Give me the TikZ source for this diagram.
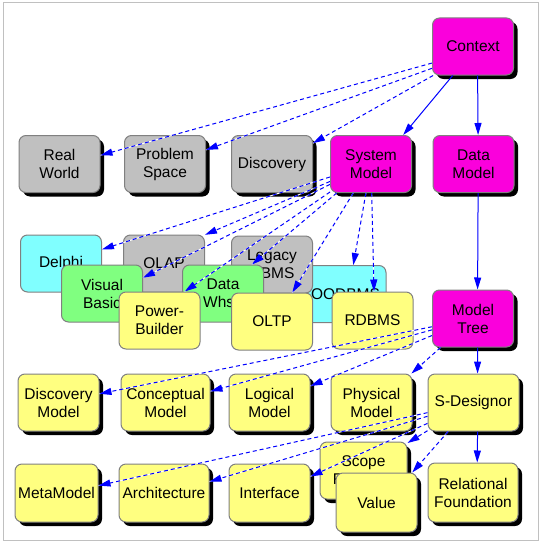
\documentclass[tikz,border=0pt]{standalone}
\usepackage{fontspec}
\setmainfont{Liberation Sans}
\usetikzlibrary{arrows.meta,shadows}
\definecolor{magbox}{RGB}{250,0,220}
\definecolor{cyanbox}{RGB}{128,255,255}
\definecolor{greenbox}{RGB}{128,255,128}
\definecolor{yelbox}{RGB}{255,255,128}
\definecolor{graybox}{RGB}{192,192,192}
\definecolor{edgegray}{RGB}{128,128,128}
\definecolor{framegray}{RGB}{192,192,192}
\begin{document}
\begin{tikzpicture}[x=1pt,y=-1pt,
  box/.style={draw=edgegray, line width=1pt, rounded corners=7pt, minimum width=81pt, minimum height=57pt, inner sep=0pt, align=center, font=\fontsize{15.5}{18}\selectfont},
  sbox/.style={box, drop shadow={shadow xshift=4pt, shadow yshift=-4pt, opacity=1, fill=black}},
  e/.style={draw=blue, line width=1pt, -{Triangle[length=12pt,width=7pt]}},
  de/.style={e, dash pattern=on 4pt off 3pt, preaction={draw=white, line width=1pt, solid, -}}]
\path[use as bounding box] (0,0) rectangle (542,543);
\draw[framegray, line width=1pt] (3,3) rectangle (538,540);
% row 1
\node[sbox, fill=magbox] (Context) at (473,46.5) {Context};
\node[sbox, fill=graybox] (RealWorld) at (59.5,164) {Real\\World};
\node[sbox, fill=graybox] (ProblemSpace) at (165,164) {Problem\\Space};
\node[sbox, fill=graybox] (Discovery) at (272,164) {Discovery};
\node[sbox, fill=magbox] (SystemModel) at (371,164) {System\\Model};
\node[sbox, fill=magbox] (DataModel) at (473.5,164) {Data\\Model};
% row 2
\node[box, fill=cyanbox] (Delphi) at (61,263.5) {Delphi};
\node[box, fill=graybox] (OLAP) at (164,263.5) {OLAP};
\node[box, fill=cyanbox] (OODBMS) at (345.5,294) {OODBMS};
\node[box, fill=graybox] (Legacy) at (272,264.5) {Legacy\\DBMS};
\node[box, fill=greenbox] (VisualBasic) at (102,293.5) {Visual\\Basic};
\node[box, fill=greenbox] (DataWhse) at (223,293.5) {Data\\Whse};
\node[box, fill=yelbox] (PowerBuilder) at (159.5,320.5) {Power-\\Builder};
\node[box, fill=yelbox] (OLTP) at (272,321.5) {OLTP};
\node[box, fill=yelbox] (RDBMS) at (372.5,320.5) {RDBMS};
\node[sbox, fill=magbox] (ModelTree) at (473,318.5) {Model\\Tree};
% row 3
\node[sbox, fill=yelbox] (DiscoveryModel) at (58.5,402.5) {Discovery\\Model};
\node[sbox, fill=yelbox, minimum width=89pt] (ConceptualModel) at (165.5,402.5) {Conceptual\\Model};
\node[sbox, fill=yelbox] (LogicalModel) at (269.5,402.5) {Logical\\Model};
\node[sbox, fill=yelbox] (PhysicalModel) at (371.5,402.5) {Physical\\Model};
\node[sbox, fill=yelbox, minimum width=91pt] (SDesignor) at (473.5,402.5) {S-Designor};
% row 4
\node[sbox, fill=yelbox, minimum width=83pt, minimum height=58pt] (MetaModel) at (56.5,493) {MetaModel};
\node[sbox, fill=yelbox, minimum width=90pt, minimum height=58pt] (Architecture) at (164,493) {Architecture};
\node[sbox, fill=yelbox, minimum height=58pt] (Interface) at (269.5,493) {Interface};
\node[sbox, fill=yelbox, minimum width=87pt] (Scope) at (363.5,470.5) {Scope\\Features};
\node[sbox, fill=yelbox, minimum height=59pt] (Value) at (376.5,502.5) {Value};
\node[sbox, fill=yelbox, minimum width=90pt, minimum height=59pt] (RelFound) at (473,492.5) {Relational\\Foundation};
% edges
\draw[de] (Context.202) -- (RealWorld.12);
\draw[de] (Context.208) -- (ProblemSpace.19);
\draw[de] (Context.216) -- (Discovery.27);
\draw[e] (Context.235) -- (SystemModel.42);
\draw[e] (Context.279) -- (DataModel.81);
\draw[e] (DataModel.279) -- (ModelTree.81);
\draw[de] (SystemModel) -- (Delphi.19);
\draw[de] (SystemModel) -- (VisualBasic.21);
\draw[de] (SystemModel) -- (OLAP.35);
\draw[de] (SystemModel) -- (PowerBuilder.49);
\draw[de] (SystemModel) -- (DataWhse.45);
\draw[de] (SystemModel) -- (OLTP.55);
\draw[de] (SystemModel) -- (OODBMS.75);
\draw[de] (SystemModel) -- (RDBMS.87);
\draw[e] (ModelTree.279) -- (SDesignor.82);
\draw[de] (ModelTree) -- (DiscoveryModel.12);
\draw[de] (ModelTree) -- (ConceptualModel.14);
\draw[de] (ModelTree) -- (LogicalModel.22);
\draw[de] (ModelTree) -- (PhysicalModel.36);
\draw[e] (SDesignor.278) -- (RelFound.82);
\draw[de] (SDesignor) -- (MetaModel.10);
\draw[de] (SDesignor) -- (Architecture.14);
\draw[de] (SDesignor) -- (Interface.22);
\draw[de] (SDesignor) -- (Scope.32);
\draw[de] (SDesignor) -- (Value.40);
\end{tikzpicture}
\end{document}
